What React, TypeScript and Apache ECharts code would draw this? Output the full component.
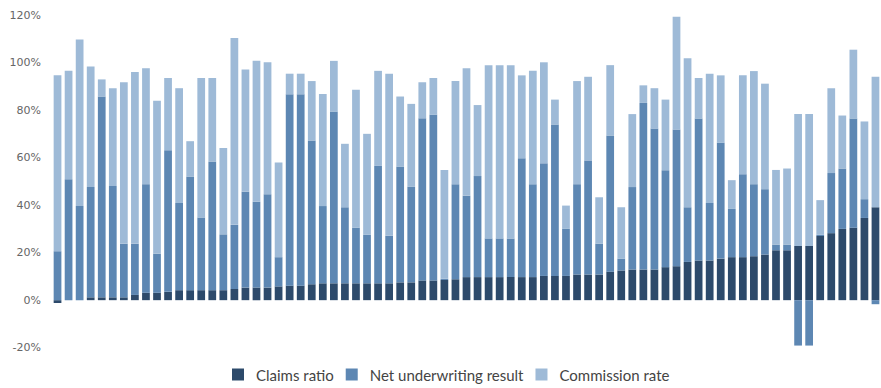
import React, { useEffect, useRef } from "react";
import * as echarts from "echarts";

const seriesNames = ["Claims ratio", "Net underwriting result", "Commission rate"];
const yTicks = [-20, 0, 20, 40, 60, 80, 100, 120];

const claimsRatio = [
  -1.2, 0, 0, 1.2, 1.2, 1.2, 1.2, 2.2, 3.1, 3.1,
  3.5, 4.2, 4.2, 4.2, 4.2, 4.2, 4.7, 5.3, 5.3, 5.3,
  5.8, 6.1, 6.1, 6.7, 7.1, 7.1, 7.1, 7.1, 7.1, 7.1,
  7.1, 7.5, 7.5, 8.3, 8.3, 8.5, 8.8, 9.7, 9.7, 9.7,
  9.7, 9.7, 9.7, 9.7, 10.2, 10.2, 10.2, 10.8, 10.8, 10.8,
  12.0, 12.5, 12.9, 12.9, 12.9, 13.9, 14.3, 16.1, 16.7, 16.7,
  17.5, 18.1, 18.1, 18.5, 19.2, 21.0, 21.0, 22.8, 22.8, 27.0,
  28.2, 30.0, 30.5, 34.6, 39.1,
];

const netUnderwriting = [
  20.6, 50.9, 39.6, 46.4, 84.5, 46.8, 22.6, 21.6, 45.7, 16.5,
  59.6, 36.7, 47.7, 30.6, 54.2, 23.5, 27.0, 40.3, 36.1, 39.3,
  12.3, 80.5, 80.5, 60.5, 32.5, 72.3, 32.0, 23.4, 20.4, 49.4,
  20.0, 48.6, 40.2, 68.2, 69.7, 0.5, 40.0, 34.3, 42.5, 16.3,
  16.3, 16.3, 50.0, 39.1, 47.4, 63.7, 19.8, 38.0, 48.0, 13.0,
  57.3, 5.0, 34.7, 70.1, 59.3, 40.8, 57.5, 23.0, 59.7, 24.2,
  48.7, 20.3, 34.9, 30.3, 27.5, 2.4, 2.4, -19.1, -19.1, 0.5,
  25.3, 25.4, 45.9, 7.9, -1.7,
];

const commissionRate = [
  74.0, 45.6, 70.1, 50.7, 7.2, 41.2, 67.9, 72.2, 48.8, 64.3,
  30.4, 48.3, 15.0, 58.7, 35.1, 36.3, 78.6, 51.5, 59.3, 55.5,
  39.8, 8.7, 8.7, 25.0, 47.2, 21.3, 26.7, 58.0, 42.5, 40.0,
  68.2, 29.6, 34.9, 15.2, 15.5, 45.8, 43.4, 53.6, 29.9, 72.9,
  72.9, 72.9, 34.9, 47.7, 42.5, 10.5, 9.8, 43.4, 35.2, 19.5,
  29.6, 21.6, 30.7, 7.4, 17.0, 29.7, 47.5, 62.7, 17.1, 54.4,
  28.4, 12.1, 41.6, 47.6, 44.4, 31.4, 32.0, 55.5, 55.5, 14.6,
  35.7, 22.3, 29.0, 32.7, 54.9,
];

const categories = claimsRatio.map((_, i) => String(i + 1));
const colors = ["#2d4a6b", "#5d87b3", "#9ebad7"];

export default function App() {
  const ref = useRef<HTMLDivElement>(null);
  useEffect(() => {
    if (!ref.current) return;
    const chart = echarts.init(ref.current, undefined, { renderer: "svg" });
    const values = [claimsRatio, netUnderwriting, commissionRate];
    chart.setOption({
      animation: false,
      color: colors,
      grid: { left: 52, right: 0, top: 15, bottom: 40.3, containLabel: false },
      legend: {
        left: 232,
        top: 367,
        padding: 0,
        itemWidth: 12,
        itemHeight: 12,
        itemGap: 12,
        icon: "rect",
        textStyle: {
          fontFamily: "Lato",
          fontSize: 15,
          color: "#444",
          padding: [0, 0, 0, 7],
        },
        data: seriesNames,
      },
      xAxis: {
        type: "category",
        data: categories,
        axisLine: { show: false },
        axisTick: { show: false },
        axisLabel: { show: false },
        splitLine: { show: false },
      },
      yAxis: {
        type: "value",
        min: yTicks[0],
        max: yTicks[yTicks.length - 1],
        interval: 20,
        axisLine: { show: false },
        axisTick: { show: false },
        splitLine: { show: false },
        axisLabel: {
          formatter: "{value}%",
          fontFamily: "DejaVu Sans",
          fontSize: 11,
          color: "#666",
          margin: 11,
        },
      },
      series: seriesNames.map((name, k) => ({
        name,
        type: "bar",
        stack: "total",
        barCategoryGap: "30%",
        data: values[k],
        itemStyle: { color: colors[k] },
      })),
    });
    return () => chart.dispose();
  }, []);
  return (
    <div
      ref={ref}
      style={{ position: "absolute", left: 0, top: 0, width: 881, height: 388 }}
    />
  );
}
